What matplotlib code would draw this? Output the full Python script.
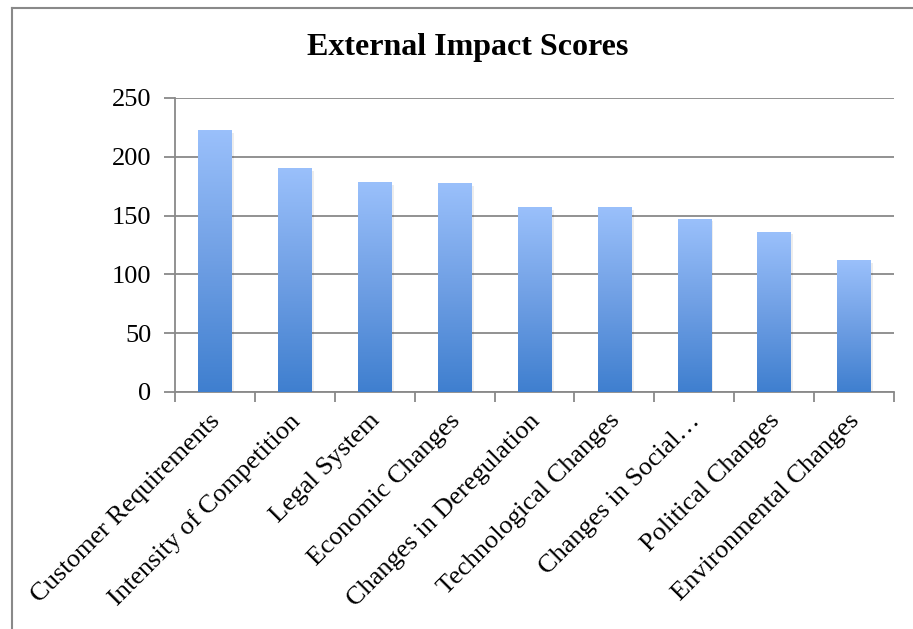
import numpy as np
import matplotlib.pyplot as plt
from matplotlib.colors import LinearSegmentedColormap
from matplotlib.lines import Line2D

categories = ['Customer Requirements', 'Intensity of Competition', 'Legal System',
              'Economic Changes', 'Changes in Deregulation', 'Technological Changes',
              'Changes in Social…', 'Political Changes', 'Environmental Changes']
scores = [222, 190, 178, 177, 157, 157, 147, 136, 112]
y_ticks = [0, 50, 100, 150, 200, 250]

plt.rcParams['font.family'] = ['Liberation Serif', 'DejaVu Serif']

fig = plt.figure(figsize=(9.13, 6.29), dpi=100)
ax = fig.add_axes([0.1917, 0.3768, 0.7875, 0.4674])

grey = '#898989'
x = np.arange(len(categories))
width = 0.42

# light shadow behind the bars
ax.bar(x + 0.03, scores, width, bottom=-2, color='#000000', alpha=0.07, zorder=2)
bars = ax.bar(x, scores, width, color='none', zorder=3)

# vertical gradient for each bar
cmap = LinearSegmentedColormap.from_list('barfill', ['#3f7fcf', '#6f9fe4', '#9ac0fb'])
grad = np.linspace(0, 1, 256).reshape(-1, 1)
for b in bars:
    x0 = b.get_x()
    ax.imshow(grad, cmap=cmap, origin='lower', aspect='auto', zorder=3,
              extent=[x0, x0 + b.get_width(), 0, b.get_height()])

ax.set_xlim(-0.5, len(categories) - 0.5)
ax.set_ylim(0, 250)
ax.set_yticks(y_ticks)
ax.tick_params(axis='y', labelsize=19, length=8, width=1.3, color=grey, pad=9)

ax.set_xticks(np.arange(len(categories) + 1) - 0.5)
ax.set_xticklabels([])
ax.tick_params(axis='x', length=7, width=1.3, color=grey)
for i, lab in enumerate(categories):
    ax.text(i + 0.12, -15, lab, rotation=45, ha='right', va='top', fontsize=19,
            transform=ax.transData)

ax.grid(axis='y', color=grey, linewidth=1.3, zorder=0)
ax.set_axisbelow(True)
for s in ['top', 'right']:
    ax.spines[s].set_visible(False)
for s in ['left', 'bottom']:
    ax.spines[s].set_color(grey)
    ax.spines[s].set_linewidth(1.3)

fig.text(0.512, 0.925, 'External Impact Scores', ha='center', va='center',
         fontsize=23, fontweight='bold')

# chart frame (open at right and bottom)
fig.add_artist(Line2D([12 / 913, 1], [1 - 8 / 629, 1 - 8 / 629], color=grey, lw=1.5))
fig.add_artist(Line2D([12 / 913, 12 / 913], [0, 1 - 8 / 629], color=grey, lw=1.5))

fig.savefig('out.png', dpi=100)
